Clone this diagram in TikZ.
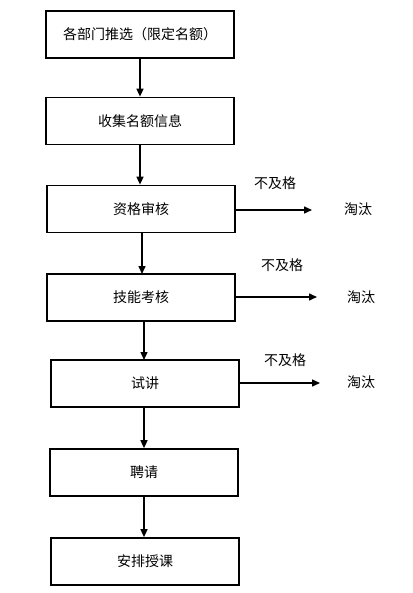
\documentclass[tikz,border=0pt]{standalone}
\usepackage{fontspec}
\setmainfont{Noto Sans CJK SC}
\usetikzlibrary{arrows.meta}
\begin{document}
\begin{tikzpicture}[x=1pt,y=-1pt,
  stepbox/.style={draw,line width=1.7pt,minimum width=188pt,minimum height=47pt,inner sep=0pt,font=\fontsize{14}{16}\selectfont},
  lbl/.style={inner sep=0pt,font=\fontsize{14}{16}\selectfont},
  conn/.style={line width=1.5pt,-{Triangle[length=8pt,width=7pt]}}]
\useasboundingbox (0,0) rectangle (412,593);
\node[stepbox] (b1) at (140,34.5) {各部门推选（限定名额）};
\node[stepbox] (b2) at (140,121) {收集名额信息};
\node[stepbox] (b3) at (141,209) {资格审核};
\node[stepbox] (b4) at (141,297.5) {技能考核};
\node[stepbox] (b5) at (145,383.5) {试讲};
\node[stepbox] (b6) at (144,472.5) {聘请};
\node[stepbox] (b7) at (145,561.5) {安排授课};
\node[lbl] (n3) at (275,183) {不及格};
\node[lbl] (n4) at (282,265) {不及格};
\node[lbl] (n5) at (285,360) {不及格};
\node[lbl] (t3) at (358,209) {淘汰};
\node[lbl] (t4) at (361,297) {淘汰};
\node[lbl] (t5) at (361,382) {淘汰};
\coordinate (e3) at (312,210);
\coordinate (e4) at (317,297);
\coordinate (e5) at (320,383);
\draw[conn] (b1.south) -- (b2.north);
\draw[conn] (b2.south) -- (b2.south |- b3.north);
\draw[conn] (142,233) -- (142,274);
\draw[conn] (144,321) -- (144,360);
\draw[conn] (b5.south -| 144,0) -- (b6.north);
\draw[conn] (b6.south) -- (b6.south |- b7.north);
\draw[conn] (b3.east |- e3) -- (e3);
\draw[conn] (b4.east |- e4) -- (e4);
\draw[conn] (b5.east |- e5) -- (e5);
\end{tikzpicture}
\end{document}
